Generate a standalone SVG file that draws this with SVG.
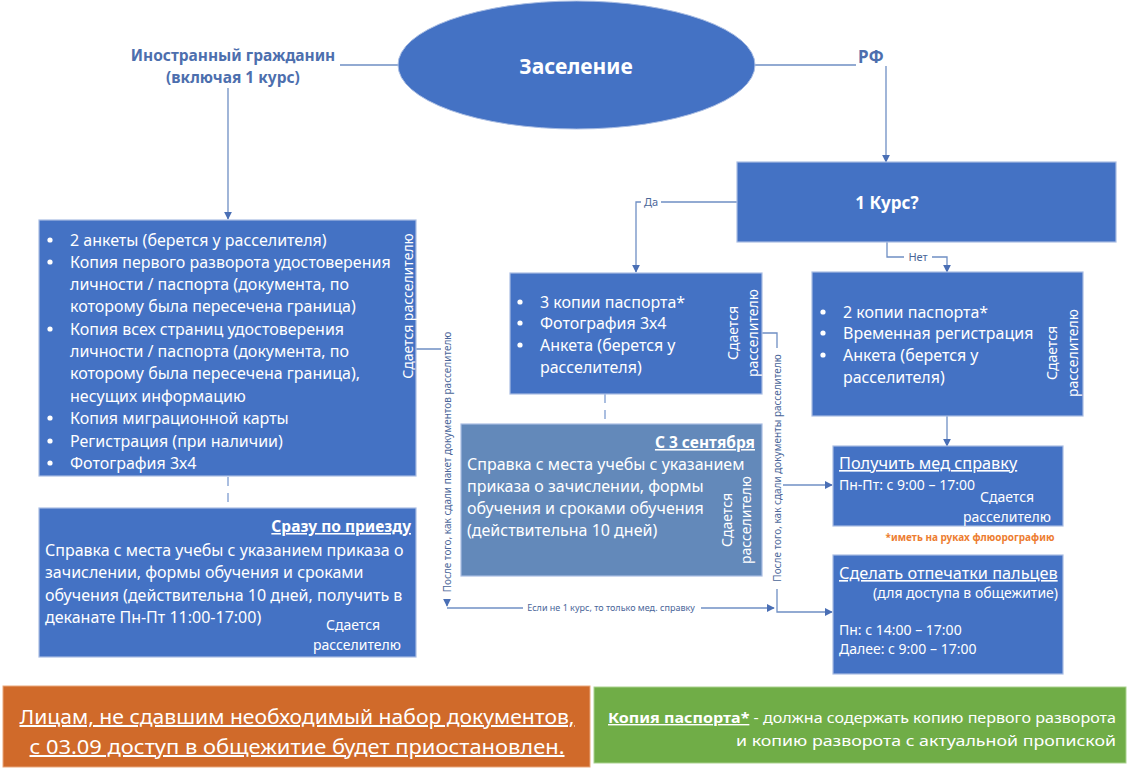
<svg xmlns="http://www.w3.org/2000/svg" width="1131" height="770" viewBox="0 0 1131 770">
<defs>
<marker id="ah" viewBox="0 0 10 10" refX="9" refY="5" markerWidth="8" markerHeight="8" markerUnits="userSpaceOnUse" orient="auto">
<path d="M0,0 L10,5 L0,10 z" fill="#4A6FB5"/>
</marker>
<style>
text{font-family:"Noto Sans","Open Sans","DejaVu Sans",sans-serif;}
.box{fill:#4472C4;stroke:#A9BDE3;stroke-width:1.2;}
.grey{fill:#6389BA;stroke:#A9BDE3;stroke-width:1.2;}
.w{fill:#FFFFFF;font-size:16px;}
.ws{fill:#FFFFFF;font-size:14px;}
.wr{fill:#FFFFFF;font-size:14px;}
.dot{fill:#FFFFFF;}
.b{font-weight:bold;}
.u{text-decoration:underline;}
.con{fill:none;stroke:#6F8FC4;stroke-width:1.3;}
.conA{fill:none;stroke:#6F8FC4;stroke-width:1.3;marker-end:url(#ah);}
.dash{fill:none;stroke:#8FA9D6;stroke-width:1.5;stroke-dasharray:9,7;}
.lbl{fill:#4A6699;font-size:10px;}
.bg{fill:#FFFFFF;}
</style>
</defs>
<rect width="1131" height="770" fill="#FFFFFF"/>

<g id="connectors">
<polyline class="conA" points="398,65 228,65 228,219"/>
<rect class="bg" x="128" y="40" width="212" height="48"/>
<text x="233" y="61" text-anchor="middle" style="font-size:15.5px;font-weight:bold;fill:#4D6FAE">Иностранный гражданин</text>
<text x="233" y="83" text-anchor="middle" style="font-size:15.5px;font-weight:bold;fill:#4D6FAE">(включая 1 курс)</text>

<polyline class="conA" points="755,65 886,65 886,162"/>
<rect class="bg" x="856" y="42" width="33" height="24"/>
<text x="871" y="63" text-anchor="middle" style="font-size:17px;font-weight:bold;fill:#4D6FAE">РФ</text>

<polyline class="conA" points="737,202 636,202 636,272"/>
<rect class="bg" x="641" y="195" width="20" height="14"/>
<text x="651" y="206" text-anchor="middle" style="font-size:11px;fill:#4A6699">Да</text>

<polyline class="conA" points="887,242 887,257 947,257 947,272"/>
<rect class="bg" x="904" y="250" width="28" height="14"/>
<text x="918" y="261" text-anchor="middle" style="font-size:11px;fill:#4A6699">Нет</text>

<line class="dash" x1="605" y1="394" x2="605" y2="424"/>
<line class="dash" x1="228" y1="477" x2="228" y2="508"/>

<polyline class="conA" points="947,416 947,446"/>

<polyline class="conA" points="416,349 447,349 447,606"/>
<rect class="bg" x="441" y="326" width="12" height="273"/>
<text class="lbl" transform="translate(451,462) rotate(-90)" text-anchor="middle">После того, как сдали пакет документов расселителю</text>

<polyline class="conA" points="447,608 774,608"/>
<rect class="bg" x="523" y="602" width="178" height="12"/>
<text x="611" y="611" text-anchor="middle" style="font-size:9px;fill:#4A6699">Если не 1 курс, то только мед. справку</text>

<polyline class="conA" points="762,333 777,333 777,612 832,612"/>
<polyline class="conA" points="777,485 832,485"/>
<rect class="bg" x="771" y="348" width="12" height="241"/>
<text class="lbl" transform="translate(781,468) rotate(-90)" text-anchor="middle">После того, как сдали документы расселителю</text>
</g>

<g id="node-zaselenie">
<ellipse cx="576.5" cy="65" rx="178.5" ry="64" fill="#4472C4" stroke="#A9BDE3" stroke-width="1"/>
<text x="576" y="74" text-anchor="middle" style="fill:#FFFFFF;font-size:21px;font-weight:bold">Заселение</text>
</g>

<g id="node-kurs">
<rect class="box" x="737" y="162" width="379" height="80"/>
<text x="887" y="209" text-anchor="middle" style="fill:#FFFFFF;font-size:17px;font-weight:bold">1 Курс?</text>
</g>

<g id="node-foreign-docs">
<rect class="box" x="39" y="220" width="377" height="256"/>
<g class="dot">
<circle cx="50" cy="240" r="2.6"/>
<circle cx="50" cy="262" r="2.6"/>
<circle cx="50" cy="329" r="2.6"/>
<circle cx="50" cy="418" r="2.6"/>
<circle cx="50" cy="441" r="2.6"/>
<circle cx="50" cy="463" r="2.6"/>
</g>
<g class="w">
<text x="70" y="246">2 анкеты (берется у расселителя)</text>
<text x="70" y="268">Копия первого разворота удостоверения</text>
<text x="70" y="290">личности / паспорта (документа, по</text>
<text x="70" y="312">которому была пересечена граница)</text>
<text x="70" y="335">Копия всех страниц удостоверения</text>
<text x="70" y="357">личности / паспорта (документа, по</text>
<text x="70" y="379">которому была пересечена граница),</text>
<text x="70" y="402">несущих информацию</text>
<text x="70" y="424">Копия миграционной карты</text>
<text x="70" y="447">Регистрация (при наличии)</text>
<text x="70" y="469">Фотография 3х4</text>
</g>
<text class="wr" transform="translate(413,306) rotate(-90)" text-anchor="middle">Сдается расселителю</text>
</g>

<g id="node-arrival">
<rect class="box" x="39" y="508" width="377" height="149"/>
<text x="411" y="532" text-anchor="end" class="b u" style="fill:#FFFFFF;font-size:15.5px">Сразу по приезду</text>
<g class="w">
<text x="45" y="556">Справка с места учебы с указанием приказа о</text>
<text x="45" y="578">зачислении, формы обучения и сроками</text>
<text x="45" y="601">обучения (действительна 10 дней, получить в</text>
<text x="45" y="623">деканате Пн-Пт 11:00-17:00)</text>
</g>
<text class="ws" x="353" y="630" text-anchor="middle">Сдается</text>
<text class="ws" x="357" y="650" text-anchor="middle">расселителю</text>
</g>

<g id="node-first-course">
<rect class="box" x="510" y="273" width="252" height="121"/>
<g class="dot">
<circle cx="520" cy="302" r="2.6"/>
<circle cx="520" cy="323" r="2.6"/>
<circle cx="520" cy="345" r="2.6"/>
</g>
<g class="w">
<text x="540" y="308">3 копии паспорта*</text>
<text x="540" y="329">Фотография 3х4</text>
<text x="540" y="351">Анкета (берется у</text>
<text x="540" y="373">расселителя)</text>
</g>
<text class="wr" transform="translate(738,333) rotate(-90)" text-anchor="middle">Сдается</text>
<text class="wr" transform="translate(758,333) rotate(-90)" text-anchor="middle">расселителю</text>
</g>

<g id="node-sept">
<rect class="grey" x="461" y="424" width="301" height="152"/>
<text x="755" y="448" text-anchor="end" class="b u" style="fill:#FFFFFF;font-size:15.5px">С 3 сентября</text>
<g class="w">
<text x="467" y="470">Справка с места учебы с указанием</text>
<text x="467" y="492">приказа о зачислении, формы</text>
<text x="467" y="514">обучения и сроками обучения</text>
<text x="467" y="536">(действительна 10 дней)</text>
</g>
<text class="wr" transform="translate(732,520) rotate(-90)" text-anchor="middle">Сдается</text>
<text class="wr" transform="translate(751,520) rotate(-90)" text-anchor="middle">расселителю</text>
</g>

<g id="node-rf-other">
<rect class="box" x="812" y="272" width="271" height="144"/>
<g class="dot">
<circle cx="823" cy="312" r="2.6"/>
<circle cx="823" cy="333" r="2.6"/>
<circle cx="823" cy="355" r="2.6"/>
</g>
<g class="w">
<text x="843" y="318">2 копии паспорта*</text>
<text x="843" y="339">Временная регистрация</text>
<text x="843" y="361">Анкета (берется у</text>
<text x="843" y="383">расселителя)</text>
</g>
<text class="wr" transform="translate(1057,353) rotate(-90)" text-anchor="middle">Сдается</text>
<text class="wr" transform="translate(1078,353) rotate(-90)" text-anchor="middle">расселителю</text>
</g>

<g id="node-med">
<rect class="box" x="833" y="446" width="230" height="80"/>
<text x="839" y="469" class="u" style="fill:#FFFFFF;font-size:16.3px">Получить мед справку</text>
<text class="ws" x="839" y="490">Пн-Пт: с 9:00 – 17:00</text>
<text class="ws" x="1007" y="502" text-anchor="middle">Сдается</text>
<text class="ws" x="1007" y="522" text-anchor="middle">расселителю</text>
</g>
<text x="970" y="541" text-anchor="middle" style="fill:#ED7D31;font-size:10px;font-weight:bold">*иметь на руках флюорографию</text>

<g id="node-fingerprints">
<rect class="box" x="833" y="555" width="230" height="119"/>
<text x="839" y="579" class="u" style="fill:#FFFFFF;font-size:16.3px">Сделать отпечатки пальцев</text>
<text class="ws" x="1058" y="598" text-anchor="end">(для доступа в общежитие)</text>
<text class="ws" x="839" y="635">Пн: с 14:00 – 17:00</text>
<text class="ws" x="839" y="654">Далее: с 9:00 – 17:00</text>
</g>

<g id="node-warning">
<rect x="3" y="686" width="587" height="81" fill="#D06A2A" stroke="#E9A77C" stroke-width="1"/>
<text x="297" y="724" text-anchor="middle" class="u" style="fill:#FFFFFF;font-size:20px" textLength="555" lengthAdjust="spacingAndGlyphs">Лицам, не сдавшим необходимый набор документов,</text>
<text x="297" y="754" text-anchor="middle" class="u" style="fill:#FFFFFF;font-size:20px" textLength="535" lengthAdjust="spacingAndGlyphs">с 03.09 доступ в общежитие будет приостановлен.</text>
</g>

<g id="node-passport-note">
<rect x="594" y="687" width="532" height="76" fill="#70AD47" stroke="#A9D18E" stroke-width="1"/>
<text x="608" y="723" style="fill:#FFFFFF;font-size:14px" textLength="508" lengthAdjust="spacingAndGlyphs"><tspan class="b u">Копия паспорта*</tspan> - должна содержать копию первого разворота</text>
<text x="1116" y="746" text-anchor="end" style="fill:#FFFFFF;font-size:14px" textLength="380" lengthAdjust="spacingAndGlyphs">и копию разворота с актуальной пропиской</text>
</g>
</svg>
